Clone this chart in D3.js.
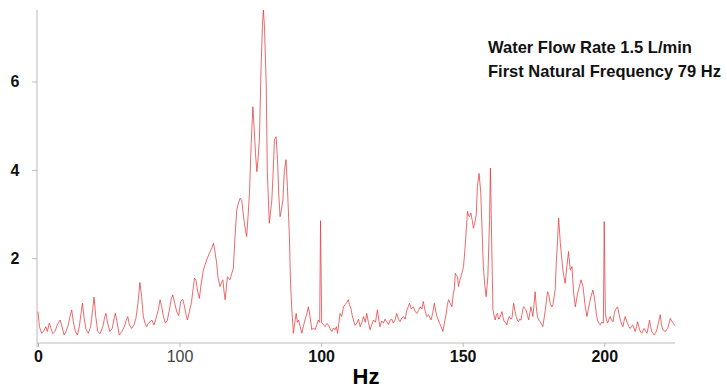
<!DOCTYPE html>
<html lang="en">
<head>
<meta charset="utf-8">
<title>Water flow spectrum</title>
<script src="https://cdn.jsdelivr.net/npm/d3@7/dist/d3.min.js"></script>
<style>
  body { margin: 0; background: #fff; font-family: "Liberation Sans", Arial, sans-serif; }
  .axis path, .axis line { stroke: #bbb; }
  .axis text { font-size: 16px; font-weight: bold; fill: #111; }
  .note { font-size: 16.5px; font-weight: bold; fill: #111; }
</style>
</head>
<body>
<script>
// spectrum (Hz, amplitude)
var hz = [0,0.5,1.3,2.1,2.8,3.3,4.0,4.6,5.2,6.0,6.8,7.8,8.5,9.2,9.9,10.7,11.3,11.9,12.5,13.2,13.9,14.6,15.2,15.7,16.3,17.0,17.8,18.6,19.3,19.8,
  20.4,21.1,21.9,22.9,23.6,24.0,24.6,25.4,26.2,26.9,27.3,28.0,28.7,29.6,30.5,31.2,31.7,32.3,33.1,33.9,34.6,35.3,36.0,36.6,37.2,37.8,38.4,39.0,39.6,
  40.2,41.0,41.7,42.5,43.1,43.7,44.3,45.0,45.7,46.4,47.1,47.6,48.3,49.0,49.7,50.4,51.1,51.6,52.3,52.8,53.5,54.2,54.9,55.3,55.8,56.4,57.0,57.6,58.4,59.0,59.6,
  60.5,61.4,62.0,62.5,63.1,63.6,64.3,64.8,65.3,65.7,66.1,66.9,67.8,68.4,69.0,69.6,70.2,70.8,71.4,72.0,72.4,73.0,73.7,74.2,74.7,75.3,75.9,76.3,76.8,77.3,77.8,78.2,78.8,79.3,79.6,
  80.0,80.2,80.6,81.0,81.7,82.6,83.1,83.5,84.1,84.6,85.0,85.5,86.0,86.5,87.0,87.6,88.1,88.8,89.2,89.6,90.2,90.7,91.2,91.6,92.0,92.6,93.2,93.7,94.3,95.0,95.5,96.1,96.7,97.3,97.9,98.5,99.0,99.5,99.8,
  100.2,100.8,101.4,102.0,102.6,103.2,103.8,104.4,104.9,105.4,105.8,106.3,106.7,107.3,107.9,108.5,109.1,109.6,110.0,110.5,111.0,111.4,112.0,112.6,113.2,113.8,114.4,115.0,115.6,116.1,116.7,117.3,117.9,118.5,119.2,119.9,
  120.4,120.8,121.4,122.0,122.6,123.2,123.8,124.4,125.0,125.5,126.1,126.7,127.3,127.9,128.5,129.1,129.7,130.3,130.8,131.2,131.9,132.6,133.2,133.8,134.4,135.0,135.6,136.1,136.7,137.3,138.0,138.8,139.4,
  140.0,140.5,140.9,141.4,141.8,142.4,143.0,143.6,144.2,144.6,145.0,145.6,146.2,146.7,147.0,147.4,147.8,148.2,148.5,149.0,149.4,149.9,150.3,150.8,151.2,151.7,152.1,152.4,152.9,153.4,153.8,154.3,154.8,155.2,155.8,156.4,156.9,157.3,157.8,158.3,158.9,159.5,159.8,
  160.3,160.7,161.1,161.5,161.9,162.3,162.7,163.0,163.5,163.9,164.3,164.7,165.2,165.6,166.0,166.5,167.0,167.4,168.0,168.5,168.9,169.3,169.7,170.1,170.6,171.0,171.5,172.0,172.4,172.9,173.3,173.7,174.1,174.5,174.8,175.2,175.6,176.0,176.4,176.9,177.4,177.9,178.3,178.8,179.2,179.6,
  180.0,180.4,180.9,181.5,181.9,182.3,182.7,183.0,183.5,183.9,184.5,185.0,185.4,186.2,186.8,187.4,188.0,188.6,189.2,189.8,190.2,190.6,191.2,191.8,192.5,193.3,193.9,194.4,194.8,195.4,196.0,196.4,196.8,197.2,197.6,198.1,198.6,199.1,199.7,
  200.0,200.4,200.8,201.2,201.7,202.1,202.6,203.1,203.5,203.9,204.3,204.7,205.2,205.7,206.2,206.6,207.0,207.4,207.8,208.2,208.7,209.2,209.6,210.1,210.5,210.9,211.4,211.8,212.2,212.5,213.0,213.3,213.7,214.1,214.6,215.1,215.6,216.0,216.4,216.8,217.2,217.7,218.2,218.6,219.2,219.8,
  220.2,220.7,221.1,221.6,222.0,222.4,222.9,223.3,223.8,224.3,225.0];

var amp = [0.79,0.45,0.30,0.36,0.45,0.34,0.53,0.41,0.29,0.34,0.49,0.60,0.45,0.26,0.34,0.49,0.68,0.83,0.56,0.34,0.26,0.45,0.75,0.98,0.64,0.38,0.30,0.45,0.83,1.12,
  0.68,0.34,0.29,0.45,0.68,0.75,0.53,0.34,0.41,0.64,0.75,0.53,0.26,0.34,0.45,0.60,0.68,0.49,0.41,0.49,0.64,0.98,1.45,1.13,0.68,0.53,0.45,0.53,0.56,
  0.60,0.49,0.64,0.83,1.06,0.90,0.68,0.53,0.60,0.83,1.09,1.17,0.98,0.79,0.70,1.02,1.07,0.95,0.72,0.60,0.80,1.00,1.36,1.55,1.50,1.25,1.09,1.40,1.73,1.85,1.96,
  2.11,2.23,2.34,2.15,1.89,1.55,1.36,1.45,1.51,1.25,1.06,1.58,1.51,1.65,1.77,2.50,3.09,3.25,3.36,3.30,3.05,2.75,2.49,2.95,3.47,4.60,5.43,5.00,4.40,3.96,4.30,4.68,6.34,7.30,7.62,
  7.25,6.80,5.96,3.96,2.79,3.32,4.00,4.68,4.75,4.23,3.50,2.94,3.10,3.32,3.96,4.23,3.62,2.49,1.43,0.90,0.30,0.55,0.75,0.55,0.60,0.45,0.30,0.45,0.60,0.75,0.90,0.68,0.38,0.42,0.38,0.50,0.60,0.55,2.85,
  0.53,0.50,0.45,0.52,0.49,0.40,0.34,0.42,0.38,0.45,0.30,0.55,0.75,0.68,0.90,0.95,1.00,1.06,0.95,0.87,0.70,0.60,0.48,0.53,0.62,0.45,0.55,0.68,0.55,0.75,0.55,0.38,0.50,0.60,0.55,0.83,
  0.60,0.45,0.58,0.53,0.62,0.56,0.50,0.60,0.62,0.53,0.60,0.75,0.62,0.56,0.65,0.68,0.62,0.83,0.90,0.98,0.85,0.90,0.80,0.75,0.82,0.90,0.85,1.02,0.82,0.68,0.72,0.60,0.75,
  0.98,0.80,0.68,0.60,0.53,0.45,0.34,0.55,0.75,0.95,1.06,0.98,0.90,1.21,1.28,1.66,1.60,1.58,1.36,1.50,1.58,1.70,1.81,2.20,2.57,3.06,2.96,2.94,3.02,2.85,2.68,2.80,2.99,3.62,3.92,3.47,2.57,1.81,1.40,1.13,1.58,2.87,4.04,
  2.19,0.83,0.70,0.60,0.72,0.75,0.62,0.64,0.72,0.79,0.65,0.56,0.55,0.49,0.60,0.68,0.62,0.64,0.98,0.80,0.68,0.60,0.56,0.62,0.60,0.75,0.90,0.86,0.83,0.70,0.60,0.75,0.90,0.78,0.68,0.95,1.24,0.90,0.68,0.60,0.56,0.50,0.45,0.65,0.83,1.05,
  1.24,1.18,0.98,0.90,0.95,1.13,1.30,1.80,2.40,2.91,2.34,2.00,1.73,1.43,1.81,2.15,1.73,1.81,1.21,0.90,1.05,1.21,1.35,1.51,1.36,0.90,0.68,0.85,0.98,1.15,1.28,1.15,0.98,0.75,0.60,0.52,0.49,0.55,0.53,
  2.83,0.75,0.60,0.53,0.62,0.68,0.60,0.56,0.72,0.83,0.86,0.90,0.75,0.60,0.50,0.45,0.58,0.68,0.60,0.53,0.45,0.41,0.46,0.49,0.42,0.34,0.45,0.56,0.45,0.38,0.32,0.30,0.36,0.41,0.35,0.30,0.45,0.60,0.45,0.34,0.30,0.26,0.32,0.38,0.55,0.72,
  0.50,0.38,0.36,0.34,0.38,0.41,0.52,0.64,0.58,0.53,0.47];

var xTicks = [0, 50, 100, 150, 200];
var xTickLabels = ["0", "100", "100", "150", "200"];
var yTicks = [2, 4, 6];
var noteLines = ["Water Flow Rate 1.5 L/min", "First Natural Frequency 79 Hz"];

var width = 727, height = 388;

var svg = d3.select("body").append("svg")
    .attr("width", width)
    .attr("height", height);

var x = d3.scaleLinear().domain([0, 225]).range([38, 675]);
var y = d3.scaleLinear().domain([0.08, 7.62]).range([343, 10]);

// x axis
var gx = svg.append("g")
    .attr("class", "axis")
    .attr("transform", "translate(0,343)")
    .call(d3.axisBottom(x).tickValues(xTicks).tickSize(4).tickSizeOuter(0)
        .tickFormat(function(d, i) { return xTickLabels[i]; }));
gx.select(".domain").attr("d", "M37,0H675");
gx.selectAll("text").attr("y", 8);
gx.selectAll(".tick").filter(function(d) { return d == 50; }).select("text")
    .style("font-weight", "normal").style("fill", "#444");

// y axis
var gy = svg.append("g")
    .attr("class", "axis")
    .attr("transform", "translate(37,0)")
    .call(d3.axisLeft(y).tickValues(yTicks).tickSize(5).tickSizeOuter(0));
gy.select(".domain").attr("d", "M0,10V347");
gy.selectAll("text").attr("x", -22).attr("text-anchor", "middle");

svg.append("text")
    .attr("x", 366)
    .attr("y", 384)
    .attr("text-anchor", "middle")
    .style("font-size", "22px")
    .style("font-weight", "bold")
    .text("Hz");

var line = d3.line()
    .x(function(d, i) { return x(hz[i]); })
    .y(function(d) { return y(d); });

svg.append("path")
    .datum(amp)
    .attr("fill", "none")
    .attr("stroke", "#e5383b")
    .attr("stroke-opacity", 0.75)
    .attr("stroke-width", 1)
    .attr("d", line);

svg.selectAll(".note")
    .data(noteLines)
    .enter()
    .append("text")
    .attr("class", "note")
    .attr("x", 488)
    .attr("y", function(d, i) { return 53 + i * 24; })
    .text(function(d) { return d; });
</script>
</body>
</html>
